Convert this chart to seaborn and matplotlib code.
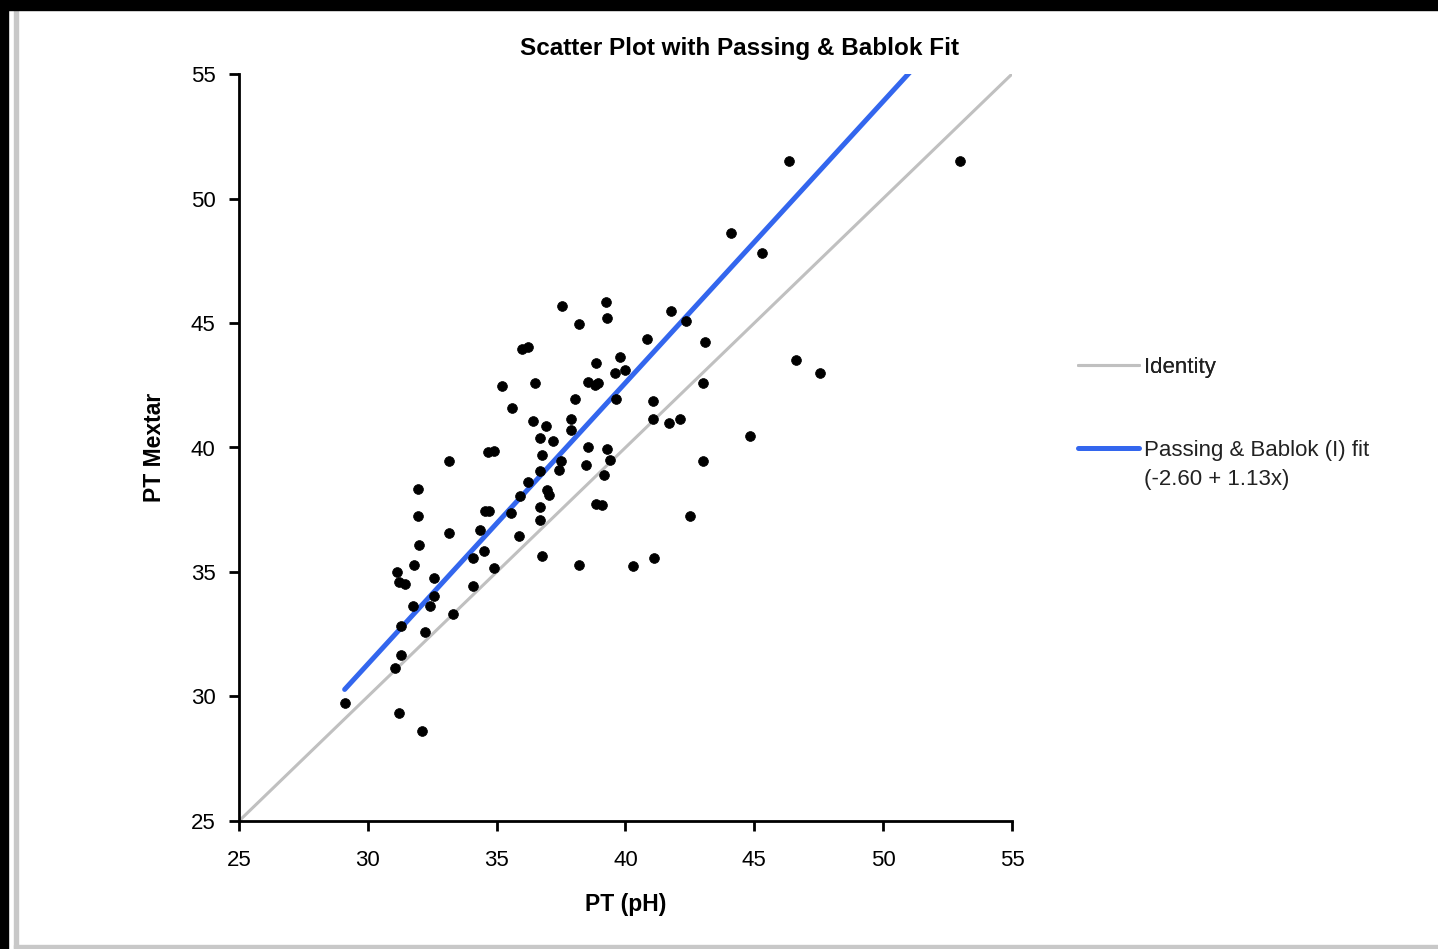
import matplotlib
matplotlib.use("Agg")
import matplotlib.pyplot as plt
from matplotlib.patches import Rectangle
from matplotlib.lines import Line2D
import seaborn as sns
import numpy as np
import pandas as pd

# PT measured with the reference method (pH) and with Mextar
pt_ph = [29.1, 31.05, 31.2, 32.1, 31.3, 31.3, 32.2, 31.15, 31.2, 31.45,
         31.8, 31.75, 32.4, 32.55, 32.55, 32.0, 31.95, 31.95, 33.15, 33.15,
         33.3, 34.1, 34.1, 34.5, 34.35, 34.55, 34.7, 34.65, 34.9, 34.9,
         35.2, 35.6, 35.55, 35.85, 35.9, 36.2, 36.0, 36.2, 36.4, 36.5,
         36.7, 36.7, 36.7, 36.75, 36.7, 36.75, 36.9, 36.95, 37.05, 37.2,
         37.4, 37.5, 37.55, 37.9, 37.9, 38.05, 38.2, 38.2, 38.45, 38.55,
         38.55, 38.8, 38.85, 38.95, 38.85, 39.1, 39.15, 39.25, 39.3, 39.3,
         39.4, 39.65, 39.6, 39.8, 40.0, 40.3, 40.85, 41.05, 41.05, 41.1,
         41.7, 41.75, 42.1, 42.35, 42.5, 43.0, 43.1, 43.0, 44.1, 44.85,
         45.3, 46.35, 46.6, 47.55, 53.0]
pt_mextar = [29.75, 31.15, 29.35, 28.6, 31.65, 32.85, 32.6, 35.0, 34.6, 34.5,
             35.3, 33.65, 33.65, 34.05, 34.75, 36.1, 37.25, 38.35, 39.45, 36.55,
             33.3, 34.45, 35.55, 35.85, 36.7, 37.45, 37.45, 39.8, 39.85, 35.15,
             42.45, 41.6, 37.35, 36.45, 38.05, 38.6, 43.95, 44.05, 41.05, 42.6,
             39.05, 37.6, 37.1, 35.65, 40.4, 39.7, 40.85, 38.3, 38.1, 40.25,
             39.1, 39.45, 45.7, 41.15, 40.7, 41.95, 44.95, 35.3, 39.3, 40.0,
             42.65, 42.5, 43.4, 42.6, 37.75, 37.7, 38.9, 45.85, 45.2, 39.95,
             39.5, 41.95, 43.0, 43.65, 43.1, 35.25, 44.35, 41.85, 41.15, 35.55,
             41.0, 45.5, 41.15, 45.1, 37.25, 42.6, 44.25, 39.45, 48.6, 40.45,
             47.8, 51.5, 43.5, 43.0, 51.5]

fit_intercept = -2.60
fit_slope = 1.13
axis_range = [25, 55]
ticks = [25, 30, 35, 40, 45, 50, 55]

df = pd.DataFrame({"PT (pH)": pt_ph, "PT Mextar": pt_mextar})

IDENTITY_COLOR = "#c0c0c0"
FIT_COLOR = "#3366ee"

sns.set_theme(style="ticks")
plt.rcParams["font.family"] = ["Liberation Sans", "DejaVu Sans"]
plt.rcParams["text.color"] = "black"
plt.rcParams["axes.labelcolor"] = "black"
plt.rcParams["xtick.labelcolor"] = "black"
plt.rcParams["ytick.labelcolor"] = "black"

fig = plt.figure(figsize=(14.38, 9.49), dpi=100)
ax = fig.add_axes([239 / 1438, 128 / 949, 773 / 1438, 747 / 949])

# identity line
sns.lineplot(x=axis_range, y=axis_range, ax=ax, color=IDENTITY_COLOR, linewidth=2.2)

# Passing & Bablok fit, from the smallest x to the top of the axes
fit_x = np.array([min(pt_ph), axis_range[1]])
fit_y = fit_intercept + fit_slope * fit_x
sns.lineplot(x=fit_x, y=fit_y, ax=ax, color=FIT_COLOR, linewidth=3.6)

sns.scatterplot(data=df, x="PT (pH)", y="PT Mextar", ax=ax, color="black",
                s=50, edgecolor="black", linewidth=0.5, zorder=3)
if ax.get_legend() is not None:
    ax.get_legend().remove()

ax.set_xlim(axis_range)
ax.set_ylim(axis_range)
ax.set_xticks(ticks)
ax.set_yticks(ticks)
ax.tick_params(labelsize=16, length=7, width=2, color="black", labelcolor="black")
ax.tick_params(axis="x", pad=14)
ax.tick_params(axis="y", pad=10)
for side in ["top", "right"]:
    ax.spines[side].set_visible(False)
for side in ["left", "bottom"]:
    ax.spines[side].set_linewidth(2)
    ax.spines[side].set_color("black")
ax.set_xlabel("PT (pH)", fontsize=16.5, fontweight="bold", labelpad=16, color="black")
ax.set_ylabel("PT Mextar", fontsize=16.5, fontweight="bold", labelpad=18, color="black")

fig.text(740 / 1438, 1 - 49 / 949, "Scatter Plot with Passing & Bablok Fit",
         ha="center", va="center", fontsize=17.5, fontweight="bold", color="black")

# legend outside on the right
h1 = [Line2D([], [], color=IDENTITY_COLOR, linewidth=2.2)]
leg1 = fig.legend(h1, ["Identity"], loc="center left",
                  bbox_to_anchor=(1078 / 1438, 1 - 367 / 949), frameon=False,
                  fontsize=16, handlelength=2.75, handletextpad=0.2,
                  borderpad=0, borderaxespad=0, labelcolor="#222222")
h2 = [Line2D([], [], color=FIT_COLOR, linewidth=3.6), Line2D([], [], color="none")]
fig.legend(h2, ["Passing & Bablok (I) fit", "(-2.60 + 1.13x)"], loc="upper left",
           bbox_to_anchor=(1078 / 1438, 1 - 440 / 949), frameon=False,
           fontsize=16, handlelength=2.75, handletextpad=0.2, labelspacing=0.35,
           borderpad=0, borderaxespad=0, labelcolor="#222222")
fig.add_artist(leg1)

# screenshot frame
fig.add_artist(Rectangle((0, 1 - 10 / 949), 1, 10 / 949, transform=fig.transFigure,
                         color="black", zorder=10))
fig.add_artist(Rectangle((0, 0), 8 / 1438, 1, transform=fig.transFigure,
                         color="black", zorder=10))
fig.add_artist(Rectangle((14 / 1438, 0), 4 / 1438, 1 - 10 / 949, transform=fig.transFigure,
                         color="#c8c8c8", zorder=9))
fig.add_artist(Rectangle((14 / 1438, 1 / 949), 1, 3 / 949, transform=fig.transFigure,
                         color="#c8c8c8", zorder=9))

fig.savefig("out.png", dpi=100)
plt.close(fig)
